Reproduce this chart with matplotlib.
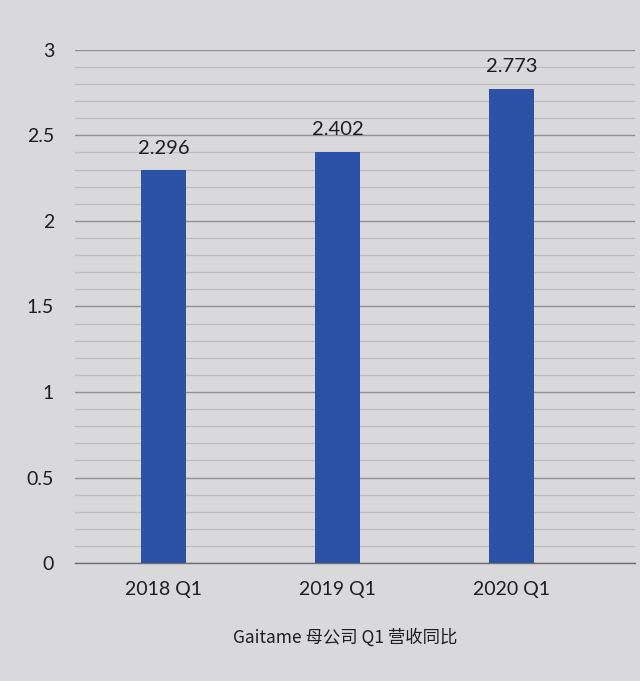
import matplotlib.pyplot as plt
import numpy as np

# data
categories = ["2018 Q1", "2019 Q1", "2020 Q1"]
values = [2.296, 2.402, 2.773]
value_labels = ["2.296", "2.402", "2.773"]
y_ticks = [0, 0.5, 1, 1.5, 2, 2.5, 3]
y_tick_labels = ["0", "0.5", "1", "1.5", "2", "2.5", "3"]
title = "Gaitame 母公司 Q1 营收同比"

bg = "#d9d9db"
bar_color = "#2b52a6"
text_color = "#1e1e1e"

fig = plt.figure(figsize=(6.4, 6.81), dpi=100)
fig.patch.set_facecolor(bg)
ax = fig.add_axes([0.117, 0.173, 0.875, 0.754])
ax.set_facecolor(bg)

x = np.arange(len(categories))
ax.bar(x, values, width=0.26, color=bar_color, zorder=3)

# data labels above bars
for xi, v, lab in zip(x, values, value_labels):
    ax.text(xi, v + 0.08, lab, ha="center", va="bottom", fontsize=14.5,
            color=text_color, family="Lato")

ax.set_ylim(0, 3)
ax.set_xlim(-0.51, 2.71)

# minor gridlines every 0.1, major every 0.5
ax.set_yticks(np.arange(0, 3.01, 0.1), minor=True)
ax.grid(axis="y", which="minor", color="#bcbcbe", linewidth=0.9, zorder=0)
ax.set_yticks(y_ticks)
ax.set_yticklabels(y_tick_labels, fontsize=14, color=text_color, family="Lato")
ax.grid(axis="y", which="major", color="#919194", linewidth=1.0, zorder=0)

ax.set_xticks(x)
ax.set_xticklabels(categories, fontsize=14, color=text_color, family="Lato")

ax.tick_params(axis="both", which="both", length=0)
ax.tick_params(axis="y", pad=15)
ax.tick_params(axis="x", pad=13)
for side in ["top", "right", "left"]:
    ax.spines[side].set_visible(False)
ax.spines["bottom"].set_color("#6f6f72")
ax.spines["bottom"].set_linewidth(1.0)

fig.text(0.54, 0.064, title, ha="center", va="center", fontsize=12.5,
         color=text_color, family=["Noto Sans CJK SC", "DejaVu Sans"])

fig.savefig("out.png", dpi=100, facecolor=bg)
